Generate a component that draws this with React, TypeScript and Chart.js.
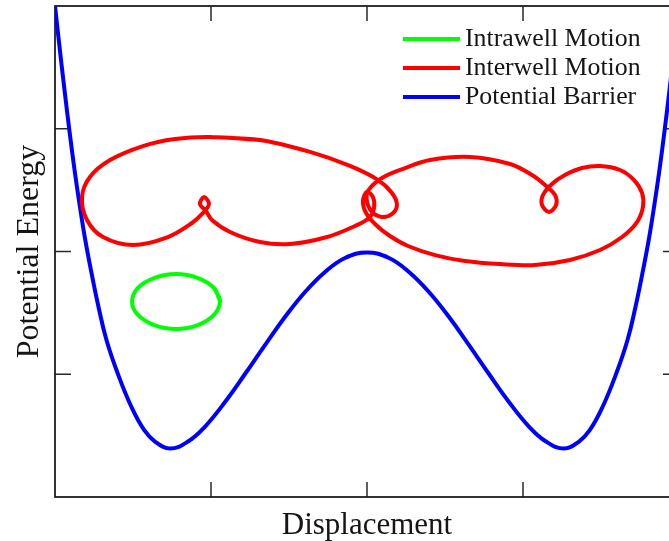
import React, { useEffect, useRef } from "react";
import { Chart, registerables } from "chart.js";

Chart.register(...registerables);

// Axis tick positions (no labels shown)
const xTicks = [-1, 0, 1];
const yTicks = [1, 2, 3];

// Potential barrier (blue)
const potentialX = [
  -2.0, -1.968, -1.936, -1.904, -1.872, -1.84, -1.806, -1.766, -1.721, -1.67, -1.599, -1.51, -1.429,
  -1.359, -1.263, -1.147, -1.038, -0.91, -0.782, -0.654, -0.526, -0.397, -0.269, -0.141, 0,
  0.141, 0.269, 0.397, 0.526, 0.654, 0.782, 0.91, 1.038, 1.147, 1.263, 1.359, 1.429, 1.51, 1.599,
  1.67, 1.721, 1.766, 1.806, 1.84, 1.872, 1.904, 1.936, 1.968, 2.0,
];
const potentialY = [
  4.0, 3.633, 3.283, 2.949, 2.64, 2.363, 2.094, 1.825, 1.548, 1.279, 1.01, 0.733, 0.546,
  0.452, 0.395, 0.452, 0.574, 0.774, 1.002, 1.238, 1.466, 1.67, 1.833, 1.947, 1.992,
  1.947, 1.833, 1.67, 1.466, 1.238, 1.002, 0.774, 0.574, 0.452, 0.395, 0.452, 0.546, 0.733, 1.01,
  1.279, 1.548, 1.825, 2.094, 2.363, 2.64, 2.949, 3.283, 3.633, 4.0,
];

// Intrawell motion (green)
const intrawellX = [-0.942, -0.981, -1.083, -1.224, -1.365, -1.468, -1.506, -1.468, -1.365, -1.224, -1.083, -0.981, -0.942, -0.981];
const intrawellY = [1.597, 1.703, 1.784, 1.817, 1.784, 1.703, 1.589, 1.483, 1.401, 1.369, 1.401, 1.483, 1.597, 1.703];

// Interwell motion (red)
const interwellX = [
  -1.006, -0.686, -0.365, -0.109, 0.071, 0.16, 0.192, 0.16, 0.096, 0.032, 0, 0.006, 0.096, 0.244,
  0.404, 0.66, 0.917, 1.058, 1.141, 1.205, 1.212, 1.167, 1.122, 1.128, 1.186, 1.269, 1.378, 1.494,
  1.622, 1.712, 1.763, 1.769, 1.731, 1.635, 1.494, 1.301, 1.077, 0.853, 0.628, 0.436, 0.263, 0.147,
  0.058, -0.006, -0.026, 0, 0.038, 0.045, 0.013, -0.077, -0.256, -0.494, -0.686, -0.878, -0.994,
  -1.032, -1.071, -1.045, -1.013, -1.051, -1.122, -1.276, -1.5, -1.692, -1.795, -1.827, -1.776,
  -1.647, -1.436, -1.231, -1.006, -0.686,
];
const interwellY = [
  2.933, 2.908, 2.811, 2.697, 2.582, 2.477, 2.379, 2.305, 2.281, 2.322, 2.411, 2.493, 2.599, 2.68,
  2.745, 2.77, 2.713, 2.623, 2.542, 2.46, 2.379, 2.322, 2.379, 2.46, 2.55, 2.623, 2.68, 2.697,
  2.664, 2.582, 2.477, 2.363, 2.24, 2.118, 2.012, 1.931, 1.89, 1.898, 1.923, 1.971, 2.045, 2.126,
  2.216, 2.314, 2.411, 2.485, 2.444, 2.354, 2.273, 2.208, 2.118, 2.061, 2.077, 2.159, 2.257,
  2.33, 2.387, 2.444, 2.387, 2.314, 2.232, 2.118, 2.053, 2.118, 2.257, 2.444, 2.607,
  2.745, 2.859, 2.916, 2.933, 2.908,
];

const seriesLabels = ["Intrawell Motion", "Interwell Motion", "Potential Barrier"];
const seriesColors = ["#00ff00", "#ff0000", "#0000ff"];

const FONT = "'Liberation Serif', 'Times New Roman', serif";

function zip(xs: number[], ys: number[]) {
  return xs.map((x, i) => ({ x, y: ys[i] }));
}

export default function App() {
  const ref = useRef<HTMLCanvasElement>(null);

  useEffect(() => {
    document.body.style.margin = "0";
    document.body.style.overflow = "hidden";
    const canvas = ref.current;
    if (!canvas) return;

    const framePlugin = {
      id: "frame",
      beforeDatasetsDraw(chart: any) {
        const { ctx, chartArea: a, scales } = chart;
        const xs = scales.x;
        const ys = scales.y;
        const tl = 15;
        ctx.save();
        ctx.strokeStyle = "#2a2a2a";
        ctx.lineWidth = 1.5;
        ctx.beginPath();
        xTicks.forEach((v) => {
          const px = xs.getPixelForValue(v);
          ctx.moveTo(px, a.bottom);
          ctx.lineTo(px, a.bottom - tl);
          ctx.moveTo(px, a.top);
          ctx.lineTo(px, a.top + tl);
        });
        yTicks.forEach((v) => {
          const py = ys.getPixelForValue(v);
          ctx.moveTo(a.left, py);
          ctx.lineTo(a.left + tl + 1, py);
          ctx.moveTo(a.right, py);
          ctx.lineTo(a.right - tl - 1, py);
        });
        ctx.stroke();
        ctx.lineWidth = 1.8;
        ctx.strokeStyle = "#1e1e1e";
        ctx.strokeRect(a.left, a.top, a.right - a.left, a.bottom - a.top);
        ctx.restore();
      },
      afterDraw(chart: any) {
        const { ctx, chartArea: a } = chart;
        ctx.save();
        const x0 = a.left + 348;
        const y0 = a.top + 33;
        const gap = 29;
        seriesLabels.forEach((label, i) => {
          const y = y0 + i * gap;
          ctx.strokeStyle = seriesColors[i];
          ctx.lineWidth = 4;
          ctx.beginPath();
          ctx.moveTo(x0, y);
          ctx.lineTo(x0 + 57, y);
          ctx.stroke();
          ctx.fillStyle = "#151515";
          ctx.font = `25.8px ${FONT}`;
          ctx.textBaseline = "alphabetic";
          ctx.textAlign = "left";
          ctx.fillText(label, x0 + 62, y + 7);
        });
        ctx.restore();
      },
    };

    const lineDs = (i: number, xs: number[], ys: number[], tension: number) => ({
      label: seriesLabels[i],
      data: zip(xs, ys),
      showLine: true,
      borderColor: seriesColors[i],
      borderWidth: 4,
      pointRadius: 0,
      tension,
    });

    const chart = new Chart(canvas, {
      type: "scatter",
      data: {
        datasets: [
          lineDs(0, intrawellX, intrawellY, 0.35),
          lineDs(1, interwellX, interwellY, 0.35),
          lineDs(2, potentialX, potentialY, 0.42),
        ],
      },
      options: {
        animation: false,
        responsive: false,
        devicePixelRatio: 1,
        events: [],
        layout: { padding: { top: 6, right: 11, left: 0, bottom: 0 } },
        elements: { line: { capBezierPoints: false, borderJoinStyle: "round", borderCapStyle: "round" } },
        plugins: { legend: { display: false }, tooltip: { enabled: false } },
        scales: {
          x: {
            type: "linear",
            min: -2,
            max: 2,
            grid: { display: false },
            border: { display: false },
            ticks: { display: false },
            title: {
              display: true,
              text: "Displacement",
              color: "#151515",
              font: { family: FONT, size: 31 },
              padding: { top: 0, bottom: -3 },
            },
            afterFit(s: any) {
              s.height = 44;
            },
          },
          y: {
            type: "linear",
            min: 0,
            max: 4,
            grid: { display: false },
            border: { display: false },
            ticks: { display: false },
            title: {
              display: true,
              text: "Potential Energy",
              color: "#151515",
              font: { family: FONT, size: 32 },
              padding: { top: 10, bottom: 0 },
            },
            afterFit(s: any) {
              s.width = 55;
            },
          },
        },
      },
      plugins: [framePlugin],
    } as any);

    return () => chart.destroy();
  }, []);

  return (
    <div style={{ width: 669, height: 541, overflow: "hidden" }}>
      <canvas ref={ref} width={690} height={541} style={{ display: "block", width: 690, height: 541 }} />
    </div>
  );
}
